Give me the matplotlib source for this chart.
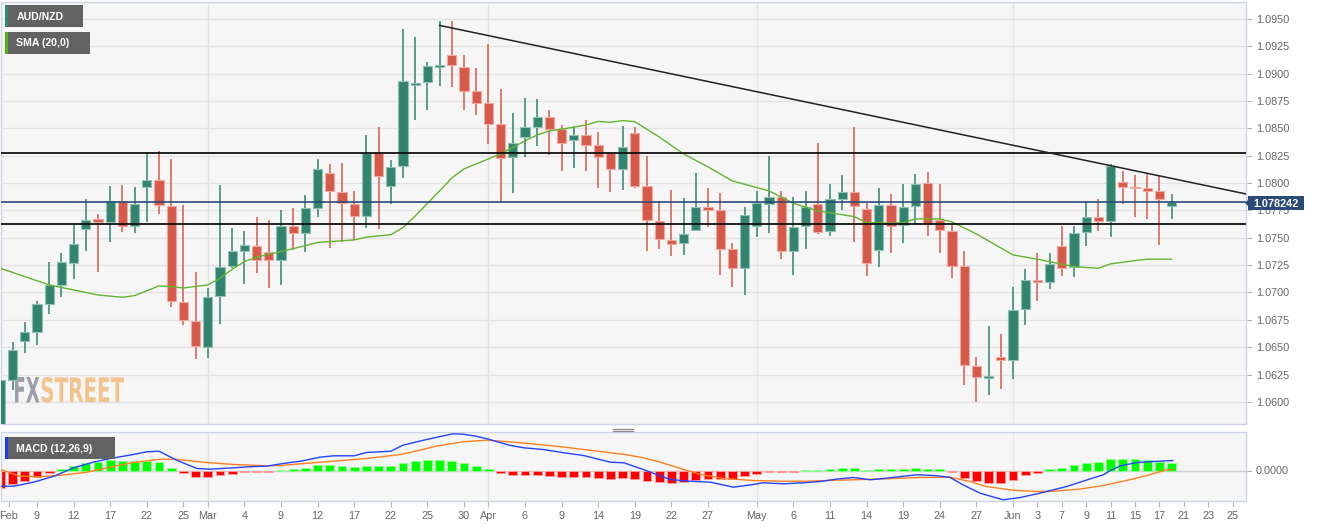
import numpy as np
import matplotlib
matplotlib.use("Agg")
import matplotlib.pyplot as plt
from matplotlib.patches import Rectangle, PathPatch, Polygon
from matplotlib.textpath import TextPath
from matplotlib.font_manager import FontProperties
from matplotlib.transforms import Affine2D
from matplotlib.lines import Line2D

plt.rcParams['font.family'] = ['Liberation Sans', 'DejaVu Sans']

# ---------------- data (trading-day index 0 = 4 Feb 2021) ----------------
opens = [1.0575, 1.0620, 1.0656, 1.0664, 1.0689, 1.0707, 1.0727, 1.0758, 1.0767, 1.0764,
         1.0784, 1.0761, 1.0796, 1.0803, 1.0779, 1.0691, 1.0674, 1.0650, 1.0697, 1.0724,
         1.0738, 1.0742, 1.0737, 1.0730, 1.0761, 1.0754, 1.0777, 1.0809, 1.0792, 1.0781,
         1.0770, 1.0827, 1.0797, 1.0816, 1.0890, 1.0892, 1.0906, 1.0917, 1.0906, 1.0884,
         1.0873, 1.0854, 1.0824, 1.0842, 1.0851, 1.0860, 1.0849, 1.0839, 1.0844, 1.0835,
         1.0827, 1.0813, 1.0846, 1.0797, 1.0765, 1.0748, 1.0745, 1.0757, 1.0778, 1.0775,
         1.0740, 1.0722, 1.0761, 1.0781, 1.0787, 1.0738, 1.0761, 1.0781, 1.0756, 1.0785,
         1.0792, 1.0776, 1.0739, 1.0780, 1.0762, 1.0779, 1.0800, 1.0766, 1.0756, 1.0724,
         1.0633, 1.0622, 1.0641, 1.0638, 1.0685, 1.0711, 1.0710, 1.0742, 1.0723, 1.0755,
         1.0769, 1.0765, 1.0801, 1.0796, 1.0795, 1.0793, 1.0779]
highs = [1.0622, 1.0655, 1.0673, 1.0692, 1.0728, 1.0736, 1.0762, 1.0785, 1.0772, 1.0797,
         1.0798, 1.0796, 1.0827, 1.0829, 1.0822, 1.0780, 1.0719, 1.0704, 1.0798, 1.0759,
         1.0756, 1.0769, 1.0766, 1.0775, 1.0777, 1.0789, 1.0822, 1.0817, 1.0818, 1.0793,
         1.0844, 1.0851, 1.0821, 1.0941, 1.0933, 1.0911, 1.0948, 1.0948, 1.0917, 1.0905,
         1.0927, 1.0886, 1.0864, 1.0878, 1.0877, 1.0867, 1.0853, 1.0852, 1.0858, 1.0847,
         1.0828, 1.0852, 1.0851, 1.0825, 1.0784, 1.0794, 1.0786, 1.0809, 1.0795, 1.0791,
         1.0745, 1.0778, 1.0793, 1.0825, 1.0793, 1.0787, 1.0793, 1.0837, 1.0799, 1.0807,
         1.0851, 1.0782, 1.0795, 1.0790, 1.0799, 1.0808, 1.0810, 1.0799, 1.0762, 1.0738,
         1.0641, 1.0669, 1.0662, 1.0705, 1.0721, 1.0736, 1.0736, 1.0761, 1.0761, 1.0784,
         1.0785, 1.0817, 1.0811, 1.0807, 1.0808, 1.0806, 1.0790]
lows = [1.0570, 1.0611, 1.0645, 1.0652, 1.0680, 1.0696, 1.0712, 1.0738, 1.0719, 1.0746,
        1.0755, 1.0754, 1.0764, 1.0772, 1.0687, 1.0670, 1.0639, 1.0640, 1.0671, 1.0722,
        1.0708, 1.0718, 1.0704, 1.0707, 1.0739, 1.0737, 1.0769, 1.0741, 1.0746, 1.0748,
        1.0759, 1.0758, 1.0781, 1.0805, 1.0858, 1.0867, 1.0889, 1.0888, 1.0867, 1.0862,
        1.0836, 1.0783, 1.0791, 1.0824, 1.0834, 1.0826, 1.0811, 1.0814, 1.0811, 1.0795,
        1.0792, 1.0794, 1.0795, 1.0738, 1.0740, 1.0733, 1.0734, 1.0756, 1.0760, 1.0716,
        1.0705, 1.0698, 1.0751, 1.0754, 1.0731, 1.0716, 1.0740, 1.0753, 1.0752, 1.0775,
        1.0746, 1.0715, 1.0723, 1.0736, 1.0745, 1.0763, 1.0752, 1.0736, 1.0713, 1.0615,
        1.0600, 1.0606, 1.0612, 1.0621, 1.0670, 1.0692, 1.0703, 1.0715, 1.0714, 1.0742,
        1.0756, 1.0751, 1.0781, 1.0769, 1.0767, 1.0743, 1.0767]
closes = [1.0620, 1.0647, 1.0664, 1.0689, 1.0707, 1.0728, 1.0744, 1.0766, 1.0764, 1.0784,
          1.0761, 1.0781, 1.0803, 1.0780, 1.0692, 1.0675, 1.0651, 1.0696, 1.0723, 1.0738,
          1.0743, 1.0730, 1.0730, 1.0761, 1.0754, 1.0777, 1.0813, 1.0793, 1.0782, 1.0770,
          1.0827, 1.0806, 1.0815, 1.0893, 1.0891, 1.0907, 1.0908, 1.0908, 1.0884, 1.0873,
          1.0854, 1.0823, 1.0837, 1.0851, 1.0860, 1.0849, 1.0837, 1.0844, 1.0835, 1.0824,
          1.0813, 1.0833, 1.0797, 1.0766, 1.0749, 1.0744, 1.0753, 1.0778, 1.0775, 1.0740,
          1.0722, 1.0771, 1.0782, 1.0787, 1.0738, 1.0760, 1.0778, 1.0755, 1.0785, 1.0792,
          1.0779, 1.0727, 1.0780, 1.0761, 1.0778, 1.0799, 1.0763, 1.0757, 1.0724, 1.0634,
          1.0623, 1.0623, 1.0638, 1.0684, 1.0711, 1.0710, 1.0726, 1.0722, 1.0754, 1.0769,
          1.0765, 1.0816, 1.0796, 1.0795, 1.0793, 1.0785, 1.078242]

sma_idx = [0, 4, 8, 10, 11, 13, 14, 15, 17, 18, 19, 20, 21, 22, 24, 26, 29, 30, 32, 33,
           34, 36, 37, 38, 40, 41, 43, 44, 45, 47, 48, 49, 50, 51, 52, 54, 56, 58, 60, 63,
           65, 67, 70, 71, 73, 74, 75, 77, 78, 80, 83, 85, 88, 90, 91, 93, 94, 96]
sma_val = [1.07221, 1.07069, 1.06977, 1.06956, 1.06971, 1.07060, 1.07053, 1.07041, 1.07069, 1.07130,
           1.07212, 1.07282, 1.07322, 1.07349, 1.07400, 1.07457, 1.07480, 1.07505, 1.07528, 1.07592,
           1.07699, 1.07928, 1.08046, 1.08129, 1.08220, 1.08266, 1.08385, 1.08439, 1.08476, 1.08510,
           1.08531, 1.08563, 1.08555, 1.08570, 1.08561, 1.08421, 1.08266, 1.08147, 1.08019, 1.07928,
           1.07815, 1.07745, 1.07693, 1.07638, 1.07633, 1.07638, 1.07672, 1.07672, 1.07644, 1.07535,
           1.07343, 1.07304, 1.07236, 1.07221, 1.07261, 1.07291, 1.07304, 1.07304]

macd_idx = [0, 1.1, 2.7, 4.4, 6, 7.6, 9, 10.9, 12, 13, 14.5, 16.1, 17.2, 19.1, 20.8, 21.8,
            23, 24.6, 26.2, 27.3, 29, 30, 32, 33, 34.4, 35.2, 37.1, 37.9, 39.0, 40.1, 41.7,
            42.9, 44.5, 46.2, 47.8, 50.0, 51.1, 52.7, 53.8, 54.9, 56.5, 58.2, 60.1, 61.7,
            62.5, 64.2, 65.8, 67.2, 68.5, 69.9, 71.3, 72.6, 75.1, 76.5, 77.8, 78.9, 80.3,
            82.2, 83.6, 85.2, 87.4, 89.1, 90.4, 91.0, 91.8, 93.2, 94.5, 96.1]
macd_val = [-0.00157, -0.00157, -0.00117, -0.00057, 0.00027, 0.00083, 0.0012, 0.0016, 0.00187,
            0.00193, 0.0010, 0.0002, 0.00013, 0.00027, 0.0004, 0.00043, 0.00067, 0.00093,
            0.00133, 0.00147, 0.00147, 0.0018, 0.00193, 0.00253, 0.00295, 0.00317, 0.00367,
            0.00363, 0.00343, 0.0031, 0.00253, 0.00227, 0.0021, 0.00177, 0.0015, 0.00083,
            0.00077, 0.0001, -0.0004, -0.0009, -0.00107, -0.00117, -0.00167, -0.0014,
            -0.00123, -0.00133, -0.00123, -0.0011, -0.00087, -0.0007, -0.00093, -0.00077,
            -0.00043, -0.0005, -0.00067, -0.00143, -0.00227, -0.00293, -0.0027, -0.00227,
            -0.0016, -0.00093, -0.00043, 0.0, 0.00047, 0.0008, 0.0009, 0.0010]

sig_idx = [0, 1.6, 3.3, 5.5, 7.1, 9, 10.9, 13.1, 14.2, 15.3, 16.9, 19.1, 21.9, 23, 24.6,
           27.3, 30, 32.8, 34.4, 35.7, 37.9, 39.8, 41.1, 43, 45.8, 48.5, 51.2, 52.5, 54.1,
           56, 57.4, 59.3, 61.7, 63.9, 66.1, 67.7, 69.9, 72.6, 75.4, 77.8, 79.5, 80.8, 83,
           84.9, 86.3, 88.4, 90.4, 92.3, 93.9, 95.6, 96.1]
sig_val = [0.0001, -0.00057, -0.00063, -0.0004, -0.00017, 0.00033, 0.0008, 0.00113, 0.00113,
           0.0010, 0.0008, 0.0006, 0.00047, 0.0005, 0.00067, 0.00093, 0.0012, 0.0016, 0.00203,
           0.00243, 0.00287, 0.00303, 0.00293, 0.00273, 0.0024, 0.0020, 0.0016, 0.00133,
           0.00083, 0.0001, -0.0004, -0.0008, -0.0010, -0.00107, -0.00107, -0.00100, -0.00093,
           -0.00083, -0.0007, -0.00067, -0.0011, -0.0016, -0.00197, -0.0021, -0.00207,
           -0.00187, -0.0015, -0.0010, -0.00053, 0.00007, 0.0001]

hist = [-0.00173, -0.0013, -0.0010, -0.00063, -0.0002, 0.00017, 0.00043, 0.00077, 0.00087, 0.00103,
        0.00093, 0.00093, 0.0010, 0.00083, 0.00027, -0.0002, -0.00063, -0.00063, -0.00047, -0.0003,
        -0.00017, -0.00013, -0.0001, 0.0001, 0.00017, 0.00027, 0.00057, 0.00057, 0.0005, 0.00037,
        0.0005, 0.0005, 0.0005, 0.0008, 0.00093, 0.00107, 0.00107, 0.00097, 0.00073, 0.00043,
        0.00013, -0.00023, -0.0004, -0.00047, -0.00047, -0.00053, -0.0006, -0.0006, -0.00067, -0.00073,
        -0.0008, -0.00073, -0.0008, -0.0010, -0.00113, -0.00123, -0.00117, -0.0009, -0.0008, -0.0008,
        -0.00083, -0.00057, -0.0003, -0.00013, -0.00017, -0.00013, 0.00003, 0.00003, 0.00015, 0.00023,
        0.00023, 0.00003, 0.00013, 0.00013, 0.00017, 0.0003, 0.0002, 0.00013, -0.00013, -0.0007,
        -0.00103, -0.00127, -0.00123, -0.0009, -0.00047, -0.0002, 0.00013, 0.00027, 0.00053, 0.0008,
        0.00087, 0.00113, 0.0012, 0.00113, 0.00103, 0.0009, 0.00073]

tick_pos = [0.7, 3, 6, 9, 12, 15, 17, 20, 23, 26, 29, 32, 35, 38, 40, 43, 46, 49, 52, 55, 58,
            62, 65, 68, 71, 74, 77, 80, 83, 85, 87, 89, 91, 93, 95, 97, 99, 101]
tick_labels = ['Feb', '9', '12', '17', '22', '25', 'Mar', '4', '9', '12', '17', '22', '25', '30',
               'Apr', '6', '9', '14', '19', '22', '27', 'May', '6', '11', '14', '19', '24', '27',
               'Jun', '3', '7', '9', '11', '15', '17', '21', '23', '25']
month_starts = [17, 40, 62, 83]
price_ticks = [1.0600, 1.0625, 1.0650, 1.0675, 1.0700, 1.0725, 1.0750, 1.0775, 1.0800,
               1.0825, 1.0850, 1.0875, 1.0900, 1.0925, 1.0950]
level_lines = [1.08273, 1.07623]
last_price = 1.078242
trend_idx = [36, 102.1]
trend_val = [1.0944, 1.0790]

# ---------------- layout ----------------
W, H = 1323, 527
fig = plt.figure(figsize=(W / 100, H / 100), dpi=100)
fig.patch.set_facecolor('white')

def fx(x):
    return x / W

def fy(y):
    return 1 - y / H

PX_DAY, X0 = 12.2, 0.4
L, R = 1, 1246
xlim = ((L - X0) / PX_DAY, (R - X0) / PX_DAY)

BG = '#f6f6f6'
BORDER = '#cdd5e4'
GRID = '#e2e2e2'
TXT = '#666666'
GREEN = '#33846f'
RED = '#d65a4a'

ax = fig.add_axes([fx(L), fy(424), fx(R) - fx(L), (424 - 2) / H])
mx = fig.add_axes([fx(L), fy(501), fx(R) - fx(L), (501 - 432) / H])

for a in (ax, mx):
    a.set_facecolor(BG)
    a.set_xlim(*xlim)
    for s in a.spines.values():
        s.set_color(BORDER)
        s.set_linewidth(1)
    for m in month_starts:
        a.axvline(m, color=GRID, lw=1, zorder=0.5)

ax.set_ylim(1.05798, 1.09654)
mx.set_ylim(-0.00305, 0.00385)

# price axis
ax.yaxis.tick_right()
ax.set_yticks(price_ticks)
ax.set_yticklabels(['%.4f' % p for p in price_ticks])
ax.tick_params(axis='y', length=4, color='#b8b8b8', labelsize=7.8, labelcolor=TXT, pad=3)
ax.set_xticks([])
for p in price_ticks:
    ax.axhline(p, color=GRID, lw=1, zorder=0.5)

# watermark
fp = FontProperties(family='DejaVu Sans', weight='bold')

def word(text, box, color):
    tp = TextPath((0, 0), text, size=100, prop=fp)
    e = tp.get_extents()
    x0, y0, x1, y1 = box
    tr = Affine2D().translate(-e.x0, -e.y0).scale((x1 - x0) / e.width, (y1 - y0) / e.height).translate(x0, H - y1)
    ax.add_artist(PathPatch(tp, transform=tr, facecolor=color, edgecolor='none', zorder=0.8))

word('FX', (15, 377, 39.5, 402.5), '#9c9fa7')
word('STREET', (41.7, 377, 124, 402.5), '#f2c38c')

# candles
idx = np.arange(len(opens))
o = np.array(opens); c = np.array(closes); h = np.array(highs); lo = np.array(lows)
up = c >= o
col = np.where(up, GREEN, RED)
edge = np.where(up, '#8fc2b4', '#f1aaa1')
ax.vlines(idx, lo, h, colors=col, lw=1.1, zorder=2)
body_b = np.minimum(o, c)
body_h = np.maximum(np.abs(c - o), 0.00014)
ax.bar(idx, body_h, bottom=body_b, width=0.74, color=col, edgecolor=edge, linewidth=0.8, zorder=3)

# SMA
ax.plot(sma_idx, sma_val, color='#62b52e', lw=1.0, zorder=4)

# levels / trend
for lv in level_lines:
    ax.axhline(lv, color='#111111', lw=1.3, zorder=5)
ax.axhline(last_price, color='#2b4a78', lw=1.2, zorder=5)
ax.plot(trend_idx, trend_val, color='#222222', lw=1.1, zorder=5)

# MACD panel
mx.axhline(0, color='#d0d0d0', lw=1, zorder=0.6)
hv = np.array(hist)
hcol = np.where(hv >= 0, '#00ff00', '#ff0000')
hedge = np.where(hv >= 0, '#8dff8d', '#ff9a9a')
mx.bar(np.arange(len(hv)), hv, width=0.72, color=hcol, edgecolor=hedge, linewidth=0.7, zorder=2)
mx.plot(sig_idx, sig_val, color='#ff7f1f', lw=1.0, zorder=3)
mx.plot(macd_idx, macd_val, color='#2443ff', lw=1.0, zorder=4)
mx.yaxis.tick_right()
mx.set_yticks([0.0])
mx.set_yticklabels(['0.0000'])
mx.tick_params(axis='y', length=4, color='#b8b8b8', labelsize=7.8, labelcolor=TXT, pad=3)
mx.set_xticks(tick_pos)
mx.set_xticklabels(tick_labels)
mx.tick_params(axis='x', length=4, color='#b8b8b8', labelsize=7.8, labelcolor=TXT, pad=3)

# legend boxes
def label_box(x0, y0, x1, y1, stripe, text):
    fig.add_artist(Rectangle((fx(x0), fy(y1)), fx(x1) - fx(x0), (y1 - y0) / H,
                             transform=fig.transFigure, facecolor='#626262', edgecolor='none', zorder=20))
    fig.add_artist(Rectangle((fx(x0), fy(y1)), fx(2.5), (y1 - y0) / H,
                             transform=fig.transFigure, facecolor=stripe, edgecolor='none', zorder=21))
    fig.text(fx(16.5), fy((y0 + y1) / 2 + 0.5), text, color='white', fontsize=7.6,
             fontweight='bold', va='center', ha='left', zorder=22)

label_box(5, 5, 83, 27, '#2f8a74', 'AUD/NZD')
label_box(5, 32, 90, 54, '#4fb414', 'SMA (20,0)')
label_box(5, 437, 115, 459, '#1a3cff', 'MACD (12,26,9)')

# last price tag
fig.add_artist(Rectangle((fx(1248), fy(210)), fx(56), 14 / H, transform=fig.transFigure,
                         facecolor='#2b4a78', edgecolor='none', zorder=20))
fig.add_artist(Polygon([(fx(1245), fy(203)), (fx(1248.5), fy(199.5)), (fx(1248.5), fy(206.5))],
                       closed=True, transform=fig.transFigure, facecolor='#2b4a78',
                       edgecolor='none', zorder=20))
fig.text(fx(1276), fy(203.5), '%.6f' % last_price, color='white', fontsize=7.8,
         fontweight='bold', va='center', ha='center', zorder=22)

# panel separator handle
for yy in (428.5, 431):
    fig.add_artist(Line2D([fx(613), fx(633)], [fy(yy), fy(yy)], transform=fig.transFigure,
                          color='#8a8a8a', lw=0.9))

fig.savefig('out.png', dpi=100, facecolor='white')
